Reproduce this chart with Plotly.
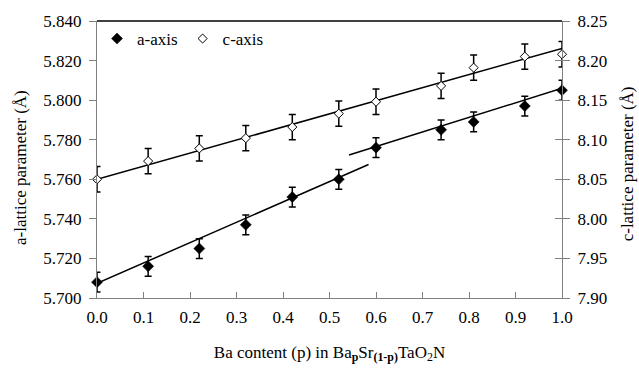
import plotly.graph_objects as go

# ---- data ----
ba_content = [0.0, 0.11, 0.22, 0.32, 0.42, 0.52, 0.60, 0.74, 0.81, 0.92, 1.0]
a_axis = [5.708, 5.716, 5.725, 5.737, 5.751, 5.760, 5.776, 5.785, 5.789, 5.797, 5.805]
a_err = [0.005] * 11
c_axis = [8.050, 8.073, 8.089, 8.102, 8.116, 8.133, 8.148, 8.168, 8.191, 8.205, 8.208]
c_err = [0.016] * 11

# fitted trend lines (endpoints)
a_fit1_x = [0.0, 0.584]
a_fit1_y = [5.7074, 5.7675]
a_fit2_x = [0.542, 1.0]
a_fit2_y = [5.7723, 5.806]
c_fit_x = [0.0, 1.0]
c_fit_y = [8.0499, 8.2154]

a_ticks = [5.700, 5.720, 5.740, 5.760, 5.780, 5.800, 5.820, 5.840]
c_ticks = [7.90, 7.95, 8.00, 8.05, 8.10, 8.15, 8.20, 8.25]
x_ticks = [0.0, 0.1, 0.2, 0.3, 0.4, 0.5, 0.6, 0.7, 0.8, 0.9, 1.0]

x_title = "Ba content (p) in Ba<sub><b>p</b></sub>Sr<sub><b>(1-p)</b></sub>TaO<sub>2</sub>N"
a_title = "a-lattice parameter (Å)"
c_title = "c-lattice parameter (Å)"

FONT = "'Liberation Serif', 'Times New Roman', 'DejaVu Serif', serif"
AXC = "#808080"
FS = 17

fig = go.Figure()

for xs, ys in [(a_fit1_x, a_fit1_y), (a_fit2_x, a_fit2_y)]:
    fig.add_trace(go.Scatter(x=xs, y=ys, mode="lines", line=dict(color="black", width=1.5),
                             showlegend=False, hoverinfo="skip", yaxis="y"))
fig.add_trace(go.Scatter(x=c_fit_x, y=c_fit_y, mode="lines", line=dict(color="black", width=1.5),
                         showlegend=False, hoverinfo="skip", yaxis="y2"))

fig.add_trace(go.Scatter(
    x=ba_content, y=a_axis, mode="markers", name="a-axis", yaxis="y",
    marker=dict(symbol="diamond", size=8.5, color="black", line=dict(color="black", width=0.5)),
    error_y=dict(type="data", array=a_err, visible=True, color="black", thickness=1.5, width=3.5),
    cliponaxis=False))
fig.add_trace(go.Scatter(
    x=ba_content, y=c_axis, mode="markers", name="c-axis", yaxis="y2",
    marker=dict(symbol="diamond", size=7, color="white", line=dict(color="black", width=1)),
    error_y=dict(type="data", array=c_err, visible=True, color="black", thickness=1.5, width=3.5),
    cliponaxis=False))

fig.update_layout(
    width=639, height=370,
    margin=dict(l=97, r=77, t=14, b=66),
    paper_bgcolor="white", plot_bgcolor="white",
    font=dict(family=FONT, size=FS, color="black"),
    xaxis=dict(range=[0, 1], tickvals=x_ticks, tickformat=".1f", ticks="inside", ticklen=6,
               tickcolor=AXC, showline=True, linecolor=AXC, linewidth=1, showgrid=False,
               zeroline=False, tickfont=dict(family=FONT, size=FS), ticklabelstandoff=4,
               title=dict(text=x_title, font=dict(family=FONT, size=FS), standoff=19)),
    yaxis=dict(range=[5.700, 5.840], tickvals=a_ticks, tickformat=".3f", ticks="outside", ticklen=7,
               tickcolor=AXC, showline=True, linecolor=AXC, linewidth=1, showgrid=False,
               zeroline=False, tickfont=dict(family=FONT, size=FS), ticklabelstandoff=4),
    yaxis2=dict(range=[7.90, 8.25], tickvals=c_ticks, tickformat=".2f", ticks="outside", ticklen=7,
                tickcolor=AXC, showline=True, linecolor=AXC, linewidth=1, showgrid=False,
                zeroline=False, overlaying="y", side="right", tickfont=dict(family=FONT, size=FS),
                ticklabelstandoff=4),
    yaxis3=dict(range=[7.90, 8.25], tickvals=c_ticks, ticks="inside", ticklen=7, tickcolor=AXC,
                showticklabels=False, showline=False, showgrid=False, zeroline=False,
                overlaying="y", side="right"),
    legend=dict(orientation="h", x=0.0, y=1.0, xanchor="left", yanchor="top",
                font=dict(family=FONT, size=FS), bgcolor="rgba(0,0,0,0)", itemwidth=30),
    shapes=[dict(type="line", xref="paper", yref="paper", x0=0, x1=1, y0=1, y1=1,
                 line=dict(color="black", width=1.5))],
    annotations=[
        dict(text=a_title, textangle=-90, xref="paper", yref="paper", x=-0.163, y=0.47,
             xanchor="center", yanchor="middle", showarrow=False, font=dict(family=FONT, size=FS)),
        dict(text=c_title, textangle=-90, xref="paper", yref="paper", x=1.14, y=0.483,
             xanchor="center", yanchor="middle", showarrow=False, font=dict(family=FONT, size=FS)),
    ],
)
fig.add_trace(go.Scatter(x=[None], y=[None], yaxis="y3", showlegend=False, hoverinfo="skip"))

fig.write_html("out.html")
